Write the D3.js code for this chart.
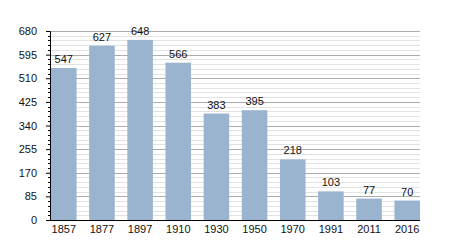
<!DOCTYPE html>
<html>
<head>
<meta charset="utf-8">
<script src="https://cdn.jsdelivr.net/npm/d3@7"></script>
<style>
  body { margin: 0; background: #fff; }
  text { font-family: "Liberation Sans", Arial, sans-serif; font-size: 11px; fill: #111; }
</style>
</head>
<body>
<script>
var years = ["1857", "1877", "1897", "1910", "1930", "1950", "1970", "1991", "2011", "2016"];
var population = [547, 627, 648, 566, 383, 395, 218, 103, 77, 70];
var yTicks = [0, 85, 170, 255, 340, 425, 510, 595, 680];

var width = 450,
    height = 250,
    plotLeft = 50,
    plotRight = 420,
    plotTop = 31,
    plotBottom = 220;

var svg = d3.select("body").append("svg")
    .attr("width", width)
    .attr("height", height);

var x = d3.scaleBand()
    .domain(years)
    .range([51, plotRight])
    .paddingInner(0.33)
    .paddingOuter(0);

var y = d3.scaleLinear()
    .domain([0, 680])
    .range([plotBottom, plotTop]);

// minor grid every 17
var minor = d3.range(0, 681, 17).filter(function(v) { return v % 85 !== 0; });

svg.append("g")
  .selectAll("line")
  .data(minor)
  .enter().append("line")
    .attr("x1", plotLeft).attr("x2", plotRight)
    .attr("y1", function(d) { return Math.round(y(d)) + 0.5; })
    .attr("y2", function(d) { return Math.round(y(d)) + 0.5; })
    .attr("stroke", "#e2e2e2");

svg.append("g")
  .selectAll("line")
  .data(yTicks.slice(1))
  .enter().append("line")
    .attr("x1", plotLeft).attr("x2", plotRight)
    .attr("y1", function(d) { return Math.round(y(d)) + 0.5; })
    .attr("y2", function(d) { return Math.round(y(d)) + 0.5; })
    .attr("stroke", "#acacac");

// bars
svg.append("g")
  .selectAll("rect")
  .data(population)
  .enter().append("rect")
    .attr("x", function(d, i) { return x(years[i]); })
    .attr("y", function(d) { return y(d); })
    .attr("width", x.bandwidth())
    .attr("height", function(d) { return plotBottom - y(d); })
    .attr("fill", "#9ab3cf");

// value labels
svg.append("g")
  .selectAll("text")
  .data(population)
  .enter().append("text")
    .attr("x", function(d, i) { return x(years[i]) + x.bandwidth() / 2; })
    .attr("y", function(d) { return y(d) - 5; })
    .attr("text-anchor", "middle")
    .text(function(d) { return d; });

// y axis
var yAxis = svg.append("g")
    .attr("transform", "translate(" + plotLeft + ",0)")
    .call(d3.axisLeft(y).tickValues(yTicks).tickSize(4).tickPadding(9));
yAxis.select(".domain").attr("stroke", "#000");
yAxis.selectAll(".tick line").attr("stroke", "#000");
yAxis.selectAll(".tick text").style("font-size", "11px").style("font-family", null);

svg.append("g")
  .selectAll("line")
  .data(minor)
  .enter().append("line")
    .attr("x1", plotLeft - 2).attr("x2", plotLeft)
    .attr("y1", function(d) { return Math.round(y(d)) + 0.5; })
    .attr("y2", function(d) { return Math.round(y(d)) + 0.5; })
    .attr("stroke", "#000");

// x axis
var xAxis = svg.append("g")
    .attr("transform", "translate(0," + plotBottom + ")")
    .call(d3.axisBottom(x).tickSize(0).tickPadding(5));
xAxis.select(".domain").remove();
xAxis.selectAll(".tick text").style("font-size", "11px").style("font-family", null);

svg.append("line")
    .attr("x1", plotLeft).attr("x2", plotRight)
    .attr("y1", plotBottom + 0.5).attr("y2", plotBottom + 0.5)
    .attr("stroke", "#000");
</script>
</body>
</html>
